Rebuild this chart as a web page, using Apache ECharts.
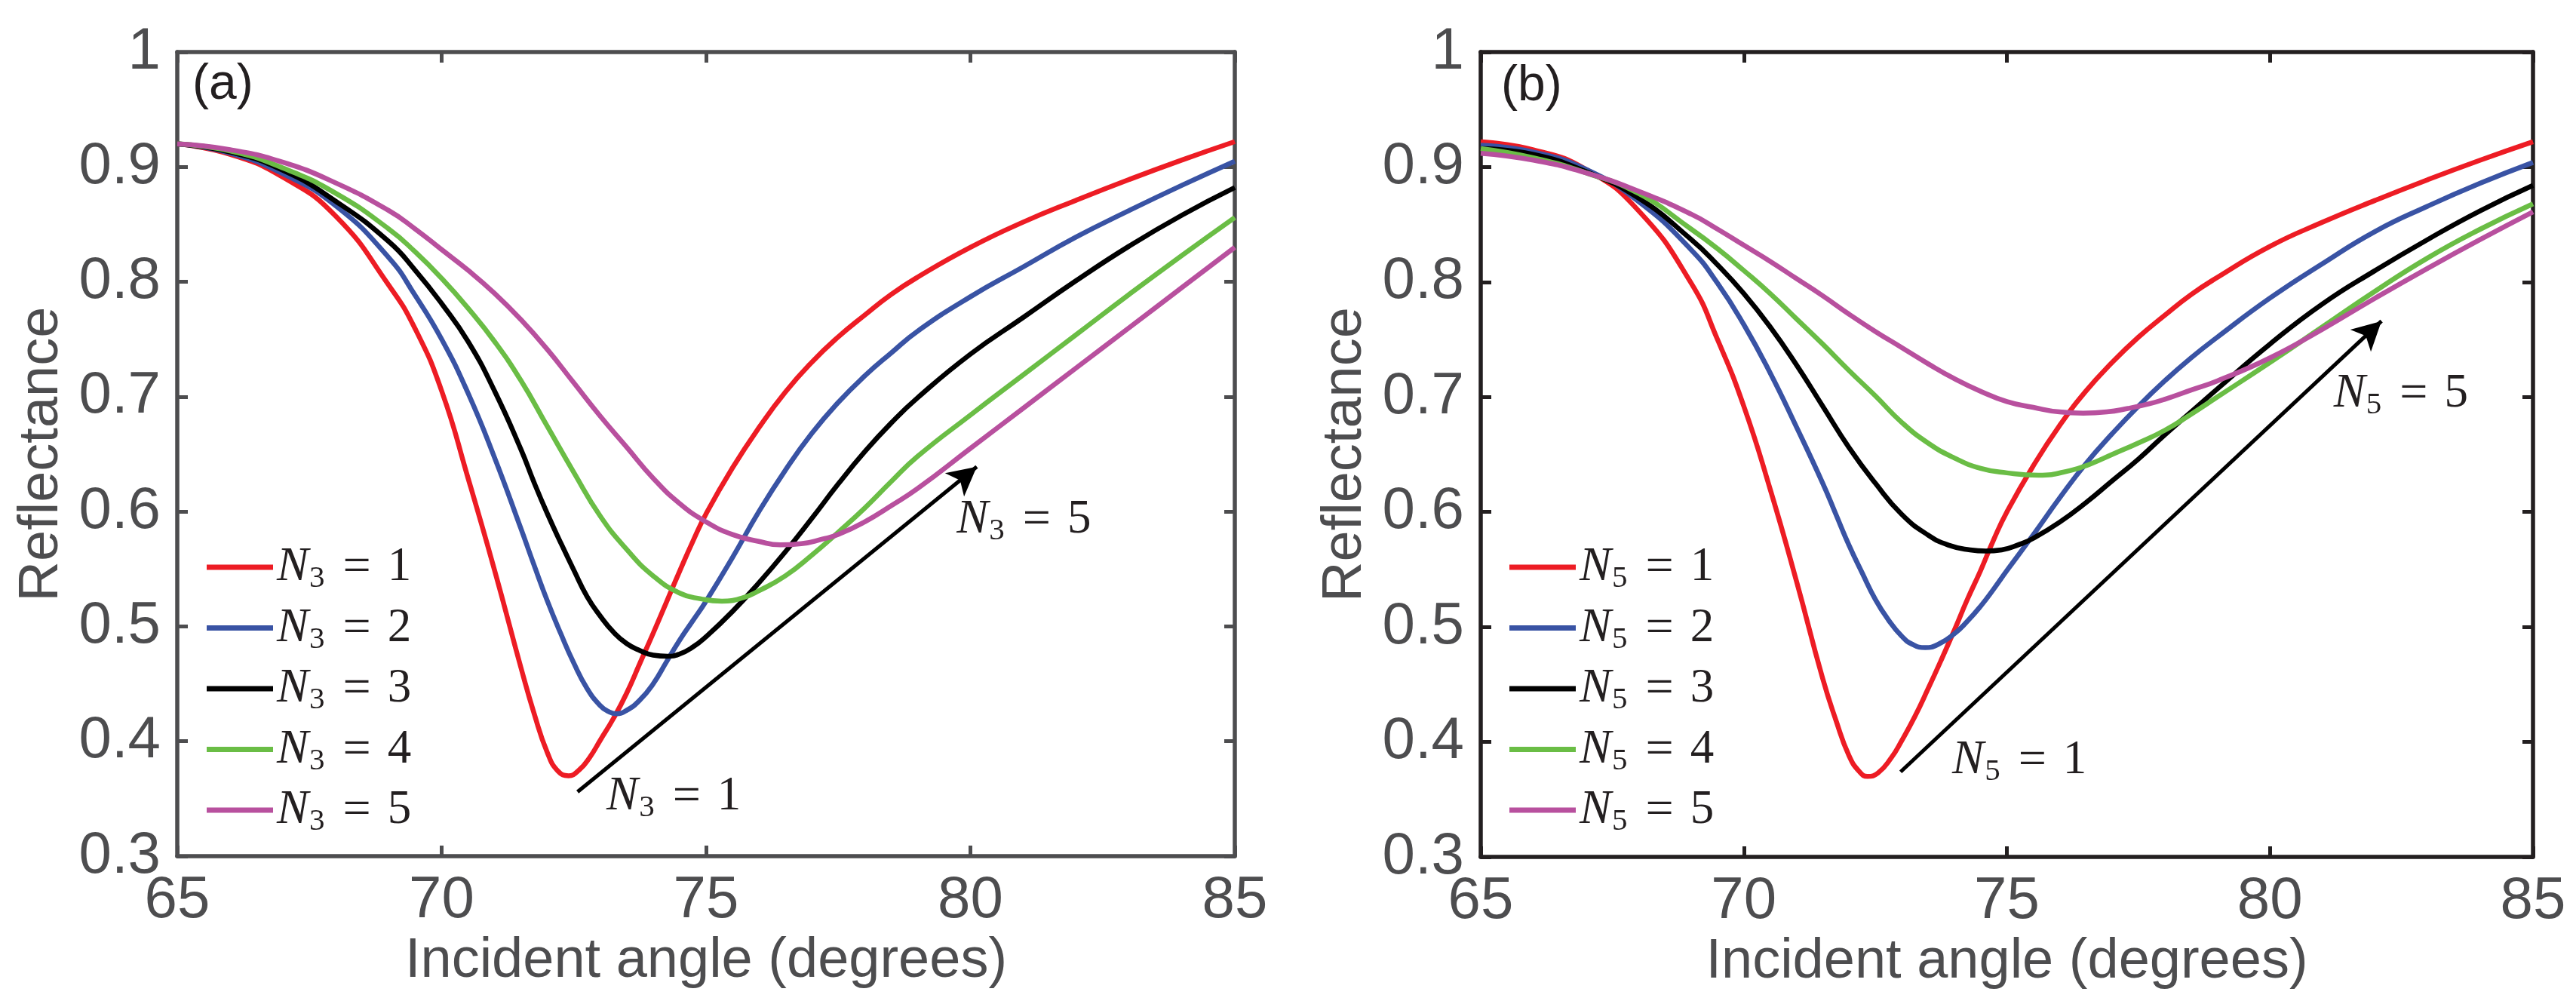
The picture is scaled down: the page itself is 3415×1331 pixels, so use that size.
<!DOCTYPE html>
<html>
<head>
<meta charset="utf-8">
<title>Reflectance vs incident angle</title>
<script src="https://cdn.jsdelivr.net/npm/echarts@6/dist/echarts.min.js"></script>
<style>
  html, body { margin: 0; padding: 0; background: #fff; }
  #chart { width: 3415px; height: 1331px; }
</style>
</head>
<body>
<div id="chart"></div>
<script>
// each curve: incident angles (degrees) and reflectance read at them,
// sampled more finely around its own dip

// panel (a): N3 = 1..5
var angA1 = [65, 66, 67, 68, 69, 69.5, 70, 70.5, 71, 71.5, 71.75, 72, 72.2, 72.4, 72.6, 72.8, 73, 73.25, 73.5,
  73.75, 74, 74.25, 74.5, 74.75, 75, 75.5, 76, 76.5, 77, 77.5, 78, 78.5, 79, 80, 81, 82, 83, 84, 85];
var refA1 = [.920, .911, .891, .857, .797, .759, .705, .629, .549, .464, .424, .390, .374, .370, .375, .386, .401, .420, .442,
  .468, .494, .521, .548, .574, .598, .638, .673, .704, .730, .752, .771, .789, .804, .830, .852, .871, .889, .906, .922];

var angA2 = [65, 66, 67, 68, 69, 69.5, 70, 70.5, 71, 71.5, 71.75, 72, 72.25, 72.5, 72.75, 73, 73.15, 73.3, 73.5,
  73.75, 74, 74.25, 74.5, 74.75, 75, 75.5, 76, 76.5, 77, 77.5, 78, 78.5, 79, 80, 81, 82, 83, 84, 85];
var refA2 = [.920, .912, .894, .866, .821, .788, .750, .703, .647, .585, .553, .522, .494, .468, .446, .431, .426, .424, .427,
  .436, .450, .469, .488, .505, .522, .560, .600, .636, .668, .695, .718, .738, .757, .787, .813, .839, .862, .884, .905];

var angA3 = [65, 66, 67, 68, 69, 69.5, 70, 70.5, 71, 71.5, 71.75, 72, 72.25, 72.5, 72.75, 73, 73.25, 73.5, 73.75,
  74, 74.27, 74.5, 74.75, 75, 75.5, 76, 76.5, 77, 77.5, 78, 78.5, 79, 80, 81, 82, 83, 84, 85];
var refA3 = [.920, .913, .897, .870, .835, .810, .781, .748, .705, .654, .625, .598, .573, .549, .526, .509, .495, .485, .479,
  .475, .474, .476, .482, .491, .513, .538, .565, .594, .624, .652, .677, .699, .737, .769, .801, .831, .858, .882];

var angA4 = [65, 66, 67, 68, 69, 69.5, 70, 70.5, 71, 71.5, 72, 72.5, 73, 73.5, 74, 74.5, 74.9, 75.3, 75.7,
  76, 76.5, 77, 77.5, 78, 78.5, 79, 80, 81, 82, 83, 84, 85];
var refA4 = [.920, .914, .899, .877, .846, .826, .803, .777, .748, .714, .674, .634, .596, .567, .544, .529, .524, .522, .525,
  .531, .544, .562, .582, .603, .626, .648, .684, .719, .754, .789, .823, .856];

var angA5 = [65, 66, 67, 68, 69, 69.5, 70, 70.5, 71, 71.5, 72, 72.5, 73, 73.5, 74, 74.5, 75, 75.5, 76,
  76.4, 76.8, 77.2, 77.5, 78, 78.5, 79, 80, 81, 82, 83, 84, 85];
var refA5 = [.920, .915, .904, .886, .862, .846, .828, .810, .790, .767, .741, .712, .683, .656, .629, .607, .591, .580, .574,
  .571, .572, .576, .580, .591, .605, .620, .655, .690, .725, .760, .795, .830];

// panel (b): N5 = 1..5
var angB1 = [65, 66, 67, 68, 69, 69.5, 70, 70.5, 71, 71.5, 71.75, 72, 72.2, 72.35, 72.55, 72.8, 73, 73.25, 73.5,
  73.75, 74, 74.25, 74.5, 74.75, 75, 75.5, 76, 76.5, 77, 77.5, 78, 78.5, 79, 80, 81, 82, 83, 84, 85];
var refB1 = [.922, .915, .898, .862, .799, .750, .692, .620, .540, .455, .419, .388, .374, .370, .373, .386, .401, .422, .446,
  .471, .497, .524, .549, .576, .600, .640, .675, .705, .730, .752, .771, .789, .804, .831, .852, .871, .889, .906, .922];

var angB2 = [65, 66, 67, 68, 69, 69.5, 70, 70.5, 71, 71.5, 71.75, 72, 72.25, 72.5, 72.75, 73, 73.2, 73.45, 73.7,
  74, 74.25, 74.5, 74.75, 75, 75.5, 76, 76.5, 77, 77.5, 78, 78.5, 79, 80, 81, 82, 83, 84, 85];
var refB2 = [.919, .913, .898, .870, .828, .799, .763, .721, .674, .625, .598, .571, .547, .524, .506, .492, .485, .482, .485,
  .494, .505, .518, .533, .549, .580, .612, .642, .668, .692, .714, .734, .752, .786, .816, .844, .866, .886, .904];

var angB3 = [65, 66, 67, 68, 69, 69.5, 70, 70.5, 71, 71.5, 72, 72.5, 73, 73.5, 73.9, 74.3, 74.6, 74.9, 75.25,
  75.5, 76, 76.5, 77, 77.5, 78, 78.5, 79, 80, 81, 82, 83, 84, 85];
var refB3 = [.916, .911, .896, .873, .837, .815, .790, .761, .728, .692, .656, .625, .598, .580, .571, .567, .566, .567, .572,
  .577, .591, .608, .627, .646, .667, .687, .707, .746, .781, .810, .837, .862, .884];

var angB4 = [65, 66, 67, 68, 69, 69.5, 70, 70.5, 71, 71.5, 72, 72.5, 73, 73.5, 74, 74.5, 75, 75.6, 76.2,
  76.6, 77, 77.5, 78, 78.5, 79, 80, 81, 82, 83, 84, 85];
var refB4 = [.916, .908, .895, .877, .846, .829, .810, .790, .768, .746, .723, .701, .678, .660, .647, .638, .634, .632, .636,
  .642, .650, .660, .671, .685, .700, .730, .761, .792, .821, .846, .868];

var angB5 = [65, 66, 67, 68, 69, 69.5, 70, 70.5, 71, 71.5, 72, 72.5, 73, 73.5, 74, 74.5, 75, 75.5, 76,
  76.45, 76.9, 77.3, 77.7, 78, 78.5, 79, 80, 81, 82, 83, 84, 85];
var refB5 = [.912, .906, .895, .879, .859, .846, .832, .818, .803, .788, .772, .757, .743, .729, .716, .705, .696, .691, .687,
  .686, .687, .690, .694, .698, .706, .714, .734, .759, .786, .812, .837, .861];

var namesA = ["N3 = 1", "N3 = 2", "N3 = 3", "N3 = 4", "N3 = 5"];
var namesB = ["N5 = 1", "N5 = 2", "N5 = 3", "N5 = 4", "N5 = 5"];
var colors = ["#ed1c24", "#3953a4", "#000000", "#6abd45", "#b8509e"];

// arrows [start, end] and their labels, in data coordinates
var arrowA = [[72.57, 0.356], [80.12, 0.639]];
var arrowB = [[72.98, 0.374], [82.12, 0.766]];
var notesA = [{ name: "N3 = 1", coord: [74.39, 0.352] }, { name: "N3 = 5", coord: [81.01, 0.593] }];
var notesB = [{ name: "N5 = 1", coord: [75.24, 0.384] }, { name: "N5 = 5", coord: [82.49, 0.703] }];

var grey = "#4d4d4f";
var ink = "#231f20";

// "N3 = 1" -> N with subscript, LaTeX-like
function mathLabel(name) {
  var sub = name.charAt(1);
  var val = name.split("= ")[1];
  return "{n|N}{s|" + sub + "}{q|=}{e|" + val + "}";
}
var mathRich = {
  n: { fontFamily: "Liberation Serif", fontStyle: "italic", fontSize: 63, lineHeight: 62, verticalAlign: "top", color: ink },
  s: { fontFamily: "Liberation Serif", fontSize: 41, lineHeight: 40, padding: [26, 0, 0, 1], verticalAlign: "top", color: ink },
  q: { fontFamily: "Liberation Serif", fontSize: 66, lineHeight: 62, padding: [0, 22, 0, 24], verticalAlign: "top", color: ink },
  e: { fontFamily: "Liberation Serif", fontSize: 63, lineHeight: 62, verticalAlign: "top", color: ink }
};

function zip(xs, ys) {
  return xs.map(function (x, i) { return [x, ys[i]]; });
}

function axisPair(gridIndex, lineColor) {
  var tick = { show: true, inside: true, length: 14, lineStyle: { color: lineColor, width: 5 } };
  var line = { show: true, onZero: false, lineStyle: { color: lineColor, width: 5.5 } };
  var x = [
    {
      type: "value", gridIndex: gridIndex, position: "bottom", min: 65, max: 85, interval: 5,
      axisLine: line, axisTick: tick, splitLine: { show: false },
      axisLabel: { color: grey, fontFamily: "Liberation Sans", fontSize: 78, margin: 20 },
      name: "Incident angle (degrees)", nameLocation: "middle", nameGap: 92,
      nameTextStyle: { color: grey, fontFamily: "Liberation Sans", fontSize: 74 }
    },
    {
      type: "value", gridIndex: gridIndex, position: "top", min: 65, max: 85, interval: 5,
      axisLine: line, axisTick: tick, splitLine: { show: false }, axisLabel: { show: false }
    }
  ];
  var y = [
    {
      type: "value", gridIndex: gridIndex, position: "left", min: 0.3, max: 1, interval: 0.1,
      axisLine: line, axisTick: tick, splitLine: { show: false },
      axisLabel: {
        color: grey, fontFamily: "Liberation Sans", fontSize: 78, margin: 22,
        formatter: function (v) { return String(+v.toFixed(1)); }
      },
      name: "Reflectance", nameLocation: "middle", nameGap: 142,
      nameTextStyle: { color: grey, fontFamily: "Liberation Sans", fontSize: 74 }
    },
    {
      type: "value", gridIndex: gridIndex, position: "right", min: 0.3, max: 1, interval: 0.1,
      axisLine: line, axisTick: tick, splitLine: { show: false }, axisLabel: { show: false }
    }
  ];
  return { x: x, y: y };
}

function panelSeries(names, curves, axisIndex, arrow, notes) {
  return names.map(function (name, i) {
    var s = {
      name: name,
      type: "line",
      xAxisIndex: axisIndex,
      yAxisIndex: axisIndex,
      data: zip(curves[i][0], curves[i][1]),
      smooth: 0.5,
      symbol: "none",
      lineStyle: { color: colors[i], width: 6.5 },
      itemStyle: { color: colors[i] },
      z: 3
    };
    if (i === 2) {
      s.markLine = {
        silent: true,
        symbol: ["none", "arrow"],
        symbolSize: [30, 38],
        label: { show: false },
        lineStyle: { color: "#000", width: 5, type: "solid" },
        data: [[{ coord: arrow[0] }, { coord: arrow[1] }]]
      };
      s.markPoint = {
        silent: true,
        symbol: "rect",
        symbolSize: 1,
        itemStyle: { color: "rgba(0,0,0,0)" },
        label: {
          show: true, position: "inside",
          formatter: function (p) { return mathLabel(p.name); },
          rich: mathRich
        },
        data: notes
      };
    }
    return s;
  });
}

function legendFor(names, left) {
  return {
    data: names,
    orient: "vertical",
    left: left,
    top: 721,
    padding: 0,
    icon: "rect",
    itemWidth: 88,
    itemHeight: 7,
    itemGap: 13.5,
    selectedMode: false,
    formatter: mathLabel,
    textStyle: { rich: mathRich }
  };
}

var axA = axisPair(0, grey);
var axB = axisPair(1, ink);

var curvesA = [[angA1, refA1], [angA2, refA2], [angA3, refA3], [angA4, refA4], [angA5, refA5]];
var curvesB = [[angB1, refB1], [angB2, refB2], [angB3, refB3], [angB4, refB4], [angB5, refB5]];

var chart = echarts.init(document.getElementById("chart"));
chart.setOption({
  animation: false,
  backgroundColor: "#fff",
  grid: [
    { left: 235, top: 69, width: 1402, height: 1066 },
    { left: 1963, top: 69, width: 1395, height: 1067 }
  ],
  xAxis: axA.x.concat(axB.x),
  yAxis: axA.y.concat(axB.y),
  legend: [legendFor(namesA, 274), legendFor(namesB, 2001)],
  graphic: [
    { type: "text", left: 255, top: 80, style: { text: "(a)", font: "66px Liberation Sans", fill: ink } },
    { type: "text", left: 1990, top: 82, style: { text: "(b)", font: "66px Liberation Sans", fill: ink } }
  ],
  series: panelSeries(namesA, curvesA, 0, arrowA, notesA)
    .concat(panelSeries(namesB, curvesB, 2, arrowB, notesB))
});
</script>
</body>
</html>
